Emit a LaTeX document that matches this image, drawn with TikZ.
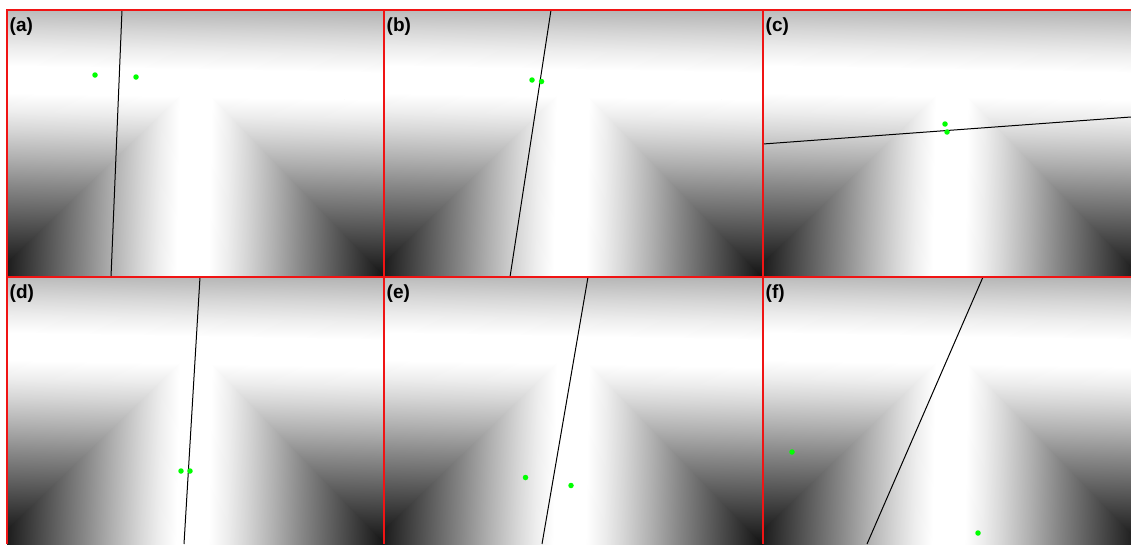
\documentclass[tikz,border=0pt]{standalone}
\usepackage{fontspec}
\setmainfont{Liberation Sans}
\definecolor{dotgreen}{RGB}{0,255,0}
\definecolor{framered}{RGB}{240,20,20}
\definecolor{fardark}{gray}{0.03}
% falloff profile: white at 25bp (next to the T), dark at 75bp (far away)
\pgfdeclareverticalshading{falloff}{100bp}{%
  gray(0bp)=(1); gray(25bp)=(1); gray(30bp)=(0.93); gray(35bp)=(0.84);
  gray(42.5bp)=(0.69); gray(50bp)=(0.53); gray(57.5bp)=(0.38);
  gray(65bp)=(0.23); gray(71bp)=(0.11); gray(75bp)=(0.03); gray(100bp)=(0.03)}
\newcommand\fieldat[3]{%
  \begin{scope}
    \clip (#1,#2) rectangle ++(#3,267);
    \begin{scope}[transform canvas={shift={(#1,#2)}, rotate around={-1.06:(189,73)}}]
      % above the horizontal bar
      \shade[shading=falloff, shading angle=0] (-40,-125.5) rectangle (420,59.5);
      % below the bar: distance to the vertical bar
      \fill[fardark] (-40,80) rectangle (-11.5,310);
      \shade[shading=falloff, shading angle=90] (-12,80) rectangle (173,310);
      \shade[shading=falloff, shading angle=-90] (205,80) rectangle (390,310);
      \fill[fardark] (389.5,80) rectangle (420,310);
      % below the bar, nearer the horizontal bar
      \begin{scope}
        \clip (173,86.5) -- (-40,86.5) -- (-40,299.5) -- cycle;
        \fill[fardark] (-40,271) rectangle (173,310);
        \shade[shading=falloff, shading angle=180] (-40,86.5) rectangle (173,271.5);
      \end{scope}
      \begin{scope}
        \clip (205,86.5) -- (420,86.5) -- (420,301.5) -- cycle;
        \fill[fardark] (205,271) rectangle (420,310);
        \shade[shading=falloff, shading angle=180] (205,86.5) rectangle (420,271.5);
      \end{scope}
      % white core of the T
      \fill[white] (-40,59) rectangle (420,87);
      \fill[white] (173,59) rectangle (205,310);
    \end{scope}
  \end{scope}%
}
\tikzset{
  redframe/.style={draw=framered, line width=1.4pt},
  cutline/.style={draw=black, line width=1pt},
  gdot/.style={circle, fill=dotgreen, inner sep=0pt, minimum size=5.5pt},
  plabel/.style={anchor=north west, inner sep=0pt, font=\fontsize{19}{19}\selectfont\bfseries},
}
\begin{document}
\begin{tikzpicture}[x=1pt, y=-1pt]
  \useasboundingbox[fill=white] (0,0) rectangle (1131,544);
  % backgrounds
  \fieldat{7}{10}{377}
  \fieldat{384}{10}{379}
  \fieldat{763}{10}{368}
  \fieldat{7}{277}{377}
  \fieldat{384}{277}{379}
  \fieldat{763}{277}{368}
  % cut lines
  \coordinate (a1) at (122,10);  \coordinate (a2) at (111,277);
  \coordinate (b1) at (551,10);  \coordinate (b2) at (510,277);
  \coordinate (c1) at (763,144); \coordinate (c2) at (1131,117);
  \coordinate (d1) at (200,277); \coordinate (d2) at (184,544);
  \coordinate (e1) at (588,277); \coordinate (e2) at (542,544);
  \coordinate (f1) at (983,277); \coordinate (f2) at (867,544);
  \draw[cutline] (a1) -- (a2);
  \draw[cutline] (b1) -- (b2);
  \draw[cutline] (c1) -- (c2);
  \draw[cutline] (d1) -- (d2);
  \draw[cutline] (e1) -- (e2);
  \draw[cutline] (f1) -- (f2);
  % green points
  \node[gdot] (pa1) at (95,75) {};    \node[gdot] (pa2) at (136,77) {};
  \node[gdot] (pb1) at (532,80) {};   \node[gdot] (pb2) at (541.5,81.5) {};
  \node[gdot] (pc1) at (945,124) {};  \node[gdot] (pc2) at (947,132) {};
  \node[gdot] (pd1) at (181,471) {};  \node[gdot] (pd2) at (190,471) {};
  \node[gdot] (pe1) at (525.5,477.5) {}; \node[gdot] (pe2) at (571,485.5) {};
  \node[gdot] (pf1) at (792,452) {};  \node[gdot] (pf2) at (978,533) {};
  % red frames
  \draw[redframe] (7,544) -- (7,10) -- (1131,10);
  \draw[redframe] (384,544) -- (384,10);
  \draw[redframe] (763,544) -- (763,10);
  \draw[redframe] (7,277) -- (1131,277);
  % labels
  \node[plabel] (la) at (9.5,18) {(a)};
  \node[plabel] (lb) at (386.5,18) {(b)};
  \node[plabel] (lc) at (765.5,18) {(c)};
  \node[plabel] (ld) at (9.5,284.5) {(d)};
  \node[plabel] (le) at (386.5,284.5) {(e)};
  \node[plabel] (lf) at (765.5,284.5) {(f)};
\end{tikzpicture}
\end{document}
